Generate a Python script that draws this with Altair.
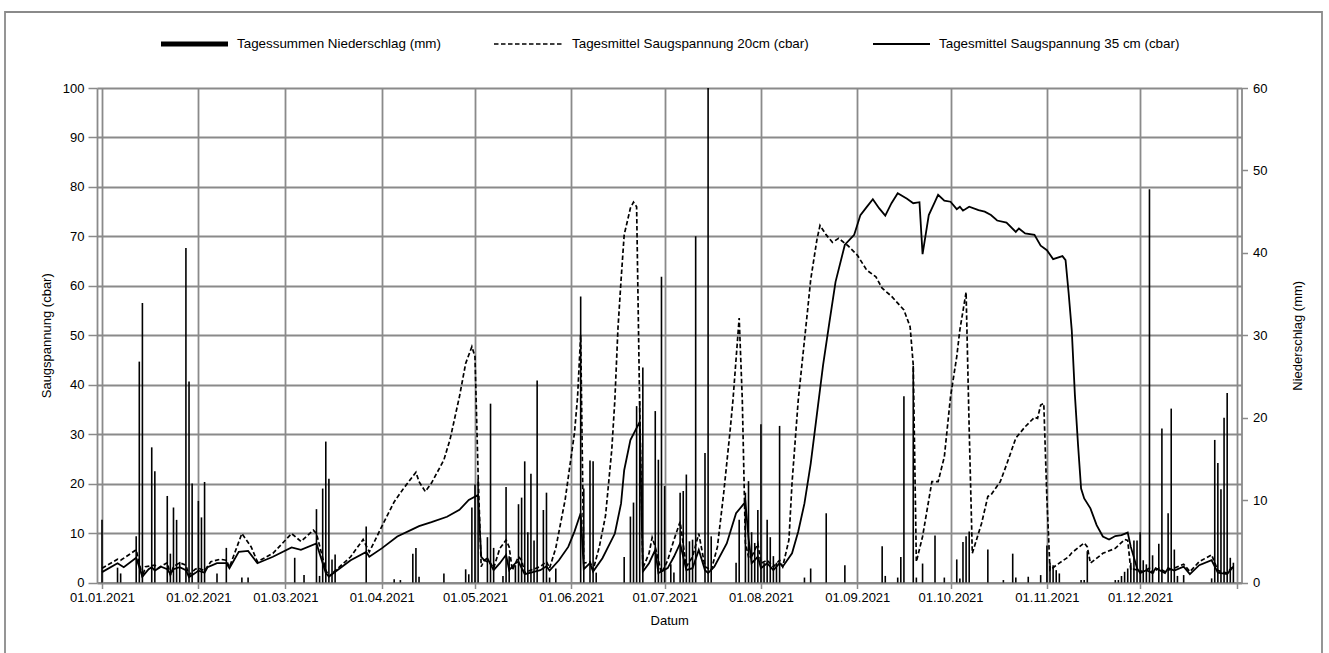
import altair as alt
import pandas as pd

DAY_MS = 86_400_000
T0 = 1609459200000  # 2021-01-01 00:00 UTC
T1 = 1640995200000  # 2022-01-01 00:00 UTC

# Daily precipitation totals (day of year offset from 01.01.2021, mm)
rain_day = [0, 5, 6, 11, 12, 13, 16, 17, 21, 22, 23, 24, 25, 27, 28, 29, 31, 32, 33, 37,
            40, 45, 47, 62, 65, 69, 70, 71, 72, 73, 74, 75, 85, 94, 96, 100, 101, 102, 110, 117,
            118, 119, 120, 121, 124, 125, 126, 129, 130, 131, 133, 134, 135, 136, 137, 138, 139, 140, 142, 143,
            144, 146, 154, 155, 157, 158, 159, 168, 170, 171, 172, 173, 174, 178, 179, 180, 181, 183, 184, 186,
            187, 188, 189, 190, 191, 194, 195, 196, 204, 205, 207, 208, 209, 210, 211, 212, 213, 214, 215, 216,
            217, 218, 226, 228, 233, 239, 251, 252, 256, 257, 258, 261, 262, 264, 268, 271, 275, 276, 277, 278,
            279, 285, 290, 293, 294, 298, 302, 304, 305, 306, 307, 308, 315, 316, 317, 326, 327, 328, 329, 330,
            331, 332, 333, 334, 335, 336, 337, 338, 340, 341, 343, 344, 345, 346, 348, 357, 358, 359, 360, 361,
            362, 363, 364]
rain_mm = [7.6, 1.8, 1.1, 5.6, 26.8, 33.9, 16.4, 13.5, 10.5, 3.5, 9.1, 7.6, 2.5, 40.6, 24.4, 12.0, 9.9, 7.9, 12.2, 1.1,
           4.2, 0.6, 0.6, 3.0, 0.9, 8.9, 0.8, 11.4, 17.1, 12.6, 2.8, 3.4, 6.8, 0.4, 0.3, 3.5, 4.2, 0.7, 1.1, 1.6,
           1.0, 9.1, 11.9, 12.6, 5.5, 21.7, 4.2, 0.8, 11.6, 3.2, 2.1, 9.5, 10.3, 14.7, 6.1, 13.2, 5.1, 24.5, 8.8, 10.9,
           0.6, 1.7, 34.7, 11.4, 14.8, 14.7, 1.2, 3.1, 8.0, 9.7, 21.4, 22.0, 26.1, 20.8, 14.9, 37.1, 11.7, 2.2, 1.2, 10.9,
           11.1, 13.1, 5.0, 5.2, 42.0, 15.7, 60.0, 5.6, 2.4, 7.6, 10.9, 12.3, 6.1, 4.8, 8.8, 19.2, 2.4, 7.6, 5.5, 3.2,
           2.4, 19.0, 0.6, 1.7, 8.4, 2.1, 4.4, 0.8, 0.6, 3.1, 22.6, 26.3, 0.6, 2.3, 5.7, 0.6, 2.8, 0.5, 4.9, 5.6,
           6.2, 4.0, 0.3, 3.5, 0.6, 0.7, 0.9, 4.5, 2.4, 2.1, 1.5, 1.1, 0.3, 0.3, 3.8, 0.3, 0.3, 0.8, 1.3, 1.7,
           2.4, 5.1, 5.1, 6.1, 2.7, 2.2, 47.7, 3.3, 4.7, 18.7, 8.4, 21.1, 4.0, 0.8, 0.9, 0.5, 17.3, 14.5, 11.3, 20.0,
           23.0, 3.0, 2.4]

# Daily mean suction at 20 cm depth (cbar)
s20_day = [0, 5, 6, 11, 13, 14, 17, 18, 21, 22, 23, 25, 27, 28, 30, 31, 33, 35, 38, 40,
           41, 45, 48, 50, 55, 61, 64, 68, 69, 72, 73, 77, 80, 84, 86, 90, 94, 97, 101, 102,
           104, 106, 110, 112, 115, 117, 119, 120, 121, 122, 123, 125, 126, 128, 130, 131, 132, 134, 135, 136,
           138, 141, 143, 144, 146, 149, 152, 153, 154, 155, 157, 158, 160, 162, 164, 165, 166, 167, 168, 170,
           171, 172, 173, 174, 176, 177, 178, 180, 182, 184, 186, 188, 190, 192, 194, 196, 198, 200, 202, 203,
           205, 206, 207, 208, 209, 211, 212, 214, 216, 218, 219, 221, 222, 224, 226, 227, 228, 230, 231, 233,
           235, 237, 240, 243, 246, 249, 251, 254, 256, 258, 260, 261, 262, 264, 265, 267, 269, 271, 273, 275,
           276, 278, 279, 280, 283, 285, 286, 289, 291, 294, 297, 300, 301, 302, 303, 304, 305, 307, 311, 312,
           316, 317, 318, 322, 326, 329, 330, 331, 332, 335, 337, 338, 340, 342, 343, 345, 348, 350, 353, 357,
           359, 362, 364]
s20_val = [2.9, 4.7, 4.5, 6.6, 1.2, 3.2, 3.5, 2.9, 4.0, 1.5, 3.2, 4.0, 3.5, 1.5, 2.7, 2.9, 2.4, 4.2, 4.7, 4.5,
           3.1, 9.9, 7.2, 4.2, 5.9, 9.9, 8.3, 10.6, 9.9, 2.5, 1.2, 3.5, 5.2, 8.7, 6.2, 11.3, 16.3, 19.0, 22.3, 20.4,
           18.4, 20.1, 24.8, 29.0, 37.6, 44.3, 47.7, 45.7, 22.0, 3.2, 4.5, 3.9, 2.9, 6.9, 8.6, 7.2, 2.5, 5.2, 4.5, 2.0,
           2.5, 3.2, 4.2, 2.9, 7.0, 16.7, 30.2, 37.5, 50.0, 3.9, 4.2, 2.5, 7.2, 13.5, 26.8, 36.9, 51.4, 61.2, 70.3, 75.7,
           76.9, 76.0, 35.0, 2.9, 5.9, 9.1, 7.2, 1.9, 4.5, 8.6, 12.3, 3.2, 5.2, 9.9, 3.2, 2.5, 7.2, 18.0, 30.2, 36.9,
           53.5, 37.0, 8.0, 5.2, 5.2, 7.9, 3.9, 4.5, 3.2, 4.5, 3.2, 8.6, 20.1, 36.9, 49.0, 55.0, 61.2, 69.3, 72.2, 70.3,
           68.8, 69.6, 68.1, 66.2, 63.2, 61.8, 59.5, 57.9, 56.5, 55.1, 51.7, 44.0, 4.2, 9.3, 13.0, 20.4, 20.4, 25.4, 37.6, 45.7,
           51.1, 58.7, 31.0, 5.9, 12.0, 17.4, 17.7, 20.4, 23.8, 29.2, 31.5, 33.4, 33.2, 35.9, 36.2, 17.0, 2.5, 3.5, 5.2, 6.0,
           8.0, 7.2, 3.9, 5.9, 6.9, 8.7, 8.5, 2.5, 2.7, 2.2, 2.9, 1.9, 2.9, 2.2, 2.5, 2.9, 3.7, 2.2, 4.2, 5.6,
           2.4, 1.9, 3.5]

# Daily mean suction at 35 cm depth (cbar)
s35_day = [0, 5, 7, 11, 13, 15, 16, 17, 19, 21, 22, 23, 25, 27, 28, 30, 31, 33, 34, 37,
           40, 41, 44, 47, 50, 55, 61, 64, 69, 72, 73, 77, 80, 85, 86, 90, 95, 100, 102, 106,
           111, 115, 118, 121, 122, 123, 124, 126, 128, 130, 131, 133, 134, 136, 138, 141, 143, 144, 147, 150,
           152, 154, 155, 157, 158, 161, 165, 167, 168, 170, 173, 174, 176, 178, 179, 182, 184, 186, 188, 190,
           192, 194, 195, 197, 201, 204, 207, 208, 209, 211, 212, 214, 216, 218, 219, 222, 224, 226, 228, 230,
           232, 234, 236, 239, 242, 244, 246, 248, 250, 252, 254, 256, 259, 261, 263, 264, 266, 268, 269, 271,
           273, 275, 276, 277, 279, 282, 284, 286, 288, 291, 294, 295, 297, 300, 302, 304, 306, 309, 310, 311,
           312, 313, 314, 315, 316, 318, 320, 322, 324, 326, 328, 330, 331, 333, 334, 336, 338, 339, 342, 343,
           345, 348, 350, 353, 357, 359, 362, 364]
s35_val = [2.1, 3.9, 3.1, 5.0, 1.2, 2.7, 3.1, 2.4, 3.2, 2.7, 1.7, 2.7, 3.1, 2.5, 1.1, 1.9, 2.4, 2.0, 3.1, 3.9,
           3.9, 2.9, 6.2, 6.4, 3.9, 5.2, 7.1, 6.6, 7.9, 1.9, 1.2, 3.1, 4.5, 6.2, 5.2, 6.9, 9.3, 10.8, 11.4, 12.2,
           13.3, 14.7, 16.7, 17.7, 5.2, 4.5, 4.9, 2.5, 3.9, 5.6, 2.5, 3.9, 4.2, 1.7, 2.0, 2.5, 3.3, 2.4, 4.5, 7.2,
           10.3, 14.0, 2.7, 3.9, 2.2, 4.9, 9.9, 16.0, 22.7, 28.8, 32.5, 2.2, 3.9, 6.6, 1.9, 2.9, 5.2, 7.9, 2.5, 2.9,
           6.6, 2.5, 1.9, 3.2, 7.9, 14.0, 16.3, 9.0, 3.9, 5.2, 2.9, 3.9, 2.5, 3.9, 3.2, 5.9, 10.3, 16.0, 24.0, 34.0,
           44.0, 52.5, 60.8, 68.3, 70.3, 74.3, 75.9, 77.5, 75.7, 74.2, 76.7, 78.7, 77.6, 76.7, 76.9, 66.4, 74.3, 77.0, 78.4, 77.2,
           77.0, 75.5, 76.0, 75.2, 76.0, 75.3, 75.0, 74.3, 73.2, 72.8, 70.9, 71.6, 70.6, 70.3, 68.1, 67.2, 65.4, 66.0, 65.2, 58.5,
           51.0, 38.0, 28.0, 19.0, 17.0, 15.0, 11.6, 9.3, 8.7, 9.4, 9.6, 10.1, 7.2, 2.9, 1.9, 2.5, 1.9, 2.9, 1.9, 2.9,
           2.4, 3.2, 1.7, 3.5, 4.5, 2.0, 1.7, 3.2]

# First day of each month, used for the date axis ticks and grid
month_start_day = [0, 31, 59, 90, 120, 151, 181, 212, 243, 273, 304, 334, 365]

legend_rain = "Tagessummen Niederschlag (mm)"
legend_s20 = "Tagesmittel Saugspannung 20cm (cbar)"
legend_s35 = "Tagesmittel Saugspannung 35 cm (cbar)"


def to_ms(days):
    return [T0 + d * DAY_MS for d in days]


rain_df = pd.DataFrame({"t": to_ms(rain_day), "mm": rain_mm})
s20_df = pd.DataFrame({"t": to_ms(s20_day), "v": s20_val})
s35_df = pd.DataFrame({"t": to_ms(s35_day), "v": s35_val})

FONT = "Liberation Sans"
GRID = "#8a8a8a"
FS = 13
W, H = 1144.5, 494.5

common_axis = dict(
    domainColor=GRID, domainWidth=1.8, tickColor=GRID, tickWidth=1.5,
    labelFontSize=FS, titleFontSize=FS, labelColor="#000", titleColor="#000",
    labelFont=FONT, titleFont=FONT, titleFontWeight="normal",
)

x_scale = alt.Scale(type="utc", domain=[T0, T1], nice=False)
x_axis = alt.Axis(
    values=to_ms(month_start_day),
    labelExpr=f"datum.value >= {T1} ? '' : utcFormat(datum.value, '%d.%m.%Y')",
    title="Datum", titleX=W / 2, titleY=38, titleBaseline="middle",
    grid=True, gridColor=GRID, gridWidth=1.8, tickSize=6, labelPadding=3,
    **common_axis,
)
x_enc = alt.X("t:T", scale=x_scale, axis=x_axis)

left_axis = alt.Axis(
    orient="left", values=list(range(0, 101, 10)), title="Saugspannung (cbar)",
    titleAngle=270, titleX=-51, titleY=H / 2, titleBaseline="middle",
    grid=True, gridColor=GRID, gridWidth=1.8, tickSize=9, labelPadding=4,
    **common_axis,
)
right_axis = alt.Axis(
    orient="right", values=list(range(0, 61, 10)), title="Niederschlag (mm)",
    titleAngle=270, titleX=56, titleY=H / 2, titleBaseline="middle",
    grid=False, tickSize=6, labelPadding=5,
    **common_axis,
)

bars = alt.Chart(rain_df).mark_bar(color="#000", width=1.6).encode(
    x=x_enc,
    y=alt.Y("mm:Q", scale=alt.Scale(domain=[0, 60], nice=False, clamp=True), axis=right_axis),
)

y_left = alt.Y("v:Q", scale=alt.Scale(domain=[0, 100], nice=False), axis=left_axis)
line20 = alt.Chart(s20_df).mark_line(color="#000", strokeWidth=1.7, strokeDash=[4.5, 2.5]).encode(x=x_enc, y=y_left)
line35 = alt.Chart(s35_df).mark_line(color="#000", strokeWidth=1.8).encode(x=x_enc, y=y_left)
lines = alt.layer(line20, line35)


# Legend row above the plot and the outer chart frame
def legend_text(label, px):
    return alt.Chart(pd.DataFrame({"s": [label]})).mark_text(
        align="left", baseline="middle", font=FONT, fontSize=13.4, color="#000"
    ).encode(x=alt.value(px), y=alt.value(-44), text="s:N")


def legend_rule(x0, x1, width, dash=None):
    kw = {"color": "#000", "strokeWidth": width}
    if dash:
        kw["strokeDash"] = dash
    return alt.Chart(pd.DataFrame({"s": [0]})).mark_rule(**kw).encode(
        x=alt.value(x0), x2=alt.value(x1), y=alt.value(-44)
    )


frame = alt.Chart(pd.DataFrame({"s": [0]})).mark_rect(
    fill="transparent", stroke=GRID, strokeWidth=1.8
).encode(x=alt.value(-92), x2=alt.value(1225), y=alt.value(-76), y2=alt.value(620))

decor = alt.layer(
    frame,
    legend_rule(64, 131, 5), legend_text(legend_rain, 140),
    legend_rule(397, 466, 1.7, [4.5, 2.5]), legend_text(legend_s20, 475),
    legend_rule(776, 833, 1.8), legend_text(legend_s35, 842),
)

chart = alt.layer(bars, lines, decor).resolve_scale(y="independent").properties(
    width=W, height=H,
    autosize=alt.AutoSizeParams(type="none"),
    padding={"left": 97, "top": 88, "right": 1329 - 97 - W, "bottom": 653 - 88 - H},
    background="#ffffff",
).configure_view(stroke=None)

chart.save("out.html", embed_options={"renderer": "svg", "actions": False})
